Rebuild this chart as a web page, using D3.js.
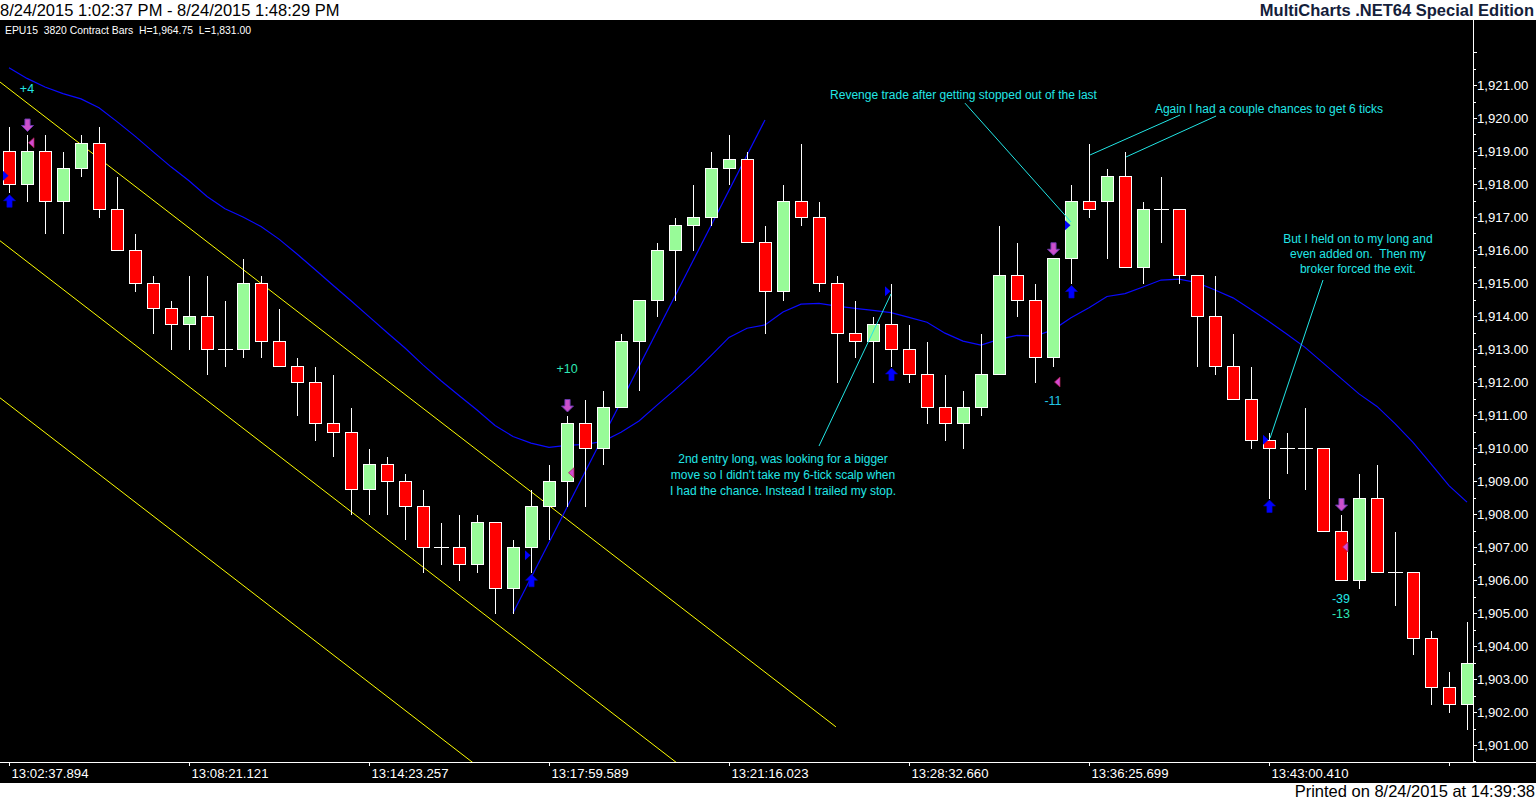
<!DOCTYPE html>
<html>
<head>
<meta charset="utf-8">
<script src="https://cdn.jsdelivr.net/npm/d3@7"></script>
<style>
  html, body { margin: 0; padding: 0; background: #fff; overflow: hidden; }
  svg { display: block; }
  text { font-family: "Liberation Sans", Arial, sans-serif; white-space: pre; }
</style>
</head>
<body>
<div id="chart"></div>
<script>
// EPU15 3820 contract bars
var opens  = [1919.0,1918.0,1919.0,1917.5,1918.5,1919.25,1917.25,1916.0,1915.0,1914.25,
              1913.75,1914.0,1913.0,1913.0,1915.0,1913.25,1912.5,1912.0,1910.75,1910.5,
              1908.75,1909.5,1909.0,1908.25,1907.0,1907.0,1906.5,1907.75,1905.75,1907.0,
              1908.25,1909.0,1910.75,1910.0,1911.25,1913.25,1914.5,1916.0,1916.75,1917.0,
              1918.5,1918.75,1916.25,1914.75,1917.5,1917.0,1915.0,1913.5,1913.25,1913.75,
              1913.0,1912.25,1911.25,1910.75,1911.25,1912.25,1915.25,1914.5,1912.75,1915.75,
              1917.5,1917.5,1918.25,1915.5,1917.25,1917.25,1915.25,1914.0,1912.5,1911.5,
              1910.25,1910.0,1910.0,1910.0,1907.5,1906.0,1908.5,1906.25,1906.25,1904.25,
              1902.75,1902.25];
var highs  = [1919.75,1919.5,1919.5,1919.0,1919.5,1919.75,1918.25,1916.5,1915.25,1914.5,
              1915.25,1915.25,1914.5,1915.75,1915.25,1914.25,1912.75,1912.5,1912.25,1911.25,
              1910.0,1909.75,1909.25,1908.75,1907.75,1908.0,1908.0,1907.75,1907.25,1908.75,
              1909.5,1911.0,1911.5,1911.75,1913.5,1914.5,1916.25,1917.0,1918.0,1919.0,
              1919.5,1919.0,1916.75,1918.0,1919.25,1917.5,1915.25,1914.5,1914.0,1915.0,
              1913.75,1913.25,1912.25,1911.75,1913.5,1916.75,1916.25,1915.0,1915.75,1918.0,
              1919.25,1918.5,1919.0,1917.5,1918.25,1917.25,1915.25,1915.25,1913.5,1912.5,
              1910.5,1910.5,1911.25,1910.0,1908.0,1909.25,1909.5,1907.5,1906.25,1904.5,
              1903.25,1904.75];
var lows   = [1917.75,1917.5,1916.5,1916.5,1918.25,1917.0,1916.0,1914.75,1913.5,1913.0,
              1913.0,1912.25,1912.5,1912.75,1912.75,1912.5,1911.0,1910.25,1909.75,1908.0,
              1908.0,1908.0,1907.25,1906.25,1906.5,1906.0,1906.25,1905.0,1905.0,1906.25,
              1907.25,1908.25,1908.25,1909.5,1911.25,1911.75,1914.0,1914.5,1916.0,1916.75,
              1918.0,1916.25,1913.5,1914.5,1916.75,1914.75,1912.0,1912.75,1912.0,1912.5,
              1912.0,1910.75,1910.25,1910.0,1911.0,1912.25,1914.0,1912.0,1912.5,1915.0,
              1917.0,1915.75,1915.5,1915.0,1916.25,1915.0,1912.5,1912.25,1911.5,1910.0,
              1908.5,1909.25,1908.75,1907.5,1906.0,1905.75,1906.25,1905.25,1903.75,1902.25,
              1902.0,1901.5];
var closes = [1918.0,1919.0,1917.5,1918.5,1919.25,1917.25,1916.0,1915.0,1914.25,1913.75,
              1914.0,1913.0,1913.0,1915.0,1913.25,1912.5,1912.0,1910.75,1910.5,1908.75,
              1909.5,1909.0,1908.25,1907.0,1907.0,1906.5,1907.75,1905.75,1907.0,1908.25,
              1909.0,1910.75,1910.0,1911.25,1913.25,1914.5,1916.0,1916.75,1917.0,1918.5,
              1918.75,1916.25,1914.75,1917.5,1917.0,1915.0,1913.5,1913.25,1913.75,1913.0,
              1912.25,1911.25,1910.75,1911.25,1912.25,1915.25,1914.5,1912.75,1915.75,1917.5,
              1917.25,1918.25,1915.5,1917.25,1917.25,1915.25,1914.0,1912.5,1911.5,1910.25,
              1910.0,1910.0,1910.0,1907.5,1906.0,1908.5,1906.25,1906.25,1904.25,1902.75,
              1902.25,1903.5];

// moving average (blue line), one value per bar
var maValues = [1921.52,1921.20,1920.94,1920.74,1920.58,1920.31,1919.89,1919.45,1918.98,1918.52,
                1918.10,1917.62,1917.25,1917.00,1916.71,1916.33,1915.88,1915.41,1914.93,1914.46,
                1913.98,1913.50,1913.03,1912.52,1912.04,1911.59,1911.15,1910.68,1910.35,1910.15,
                1910.02,1910.08,1910.11,1910.20,1910.48,1910.82,1911.30,1911.77,1912.26,1912.80,
                1913.35,1913.63,1913.73,1914.12,1914.36,1914.38,1914.30,1914.23,1914.17,1914.10,
                1913.96,1913.81,1913.48,1913.24,1913.12,1913.29,1913.41,1913.39,1913.58,1913.95,
                1914.25,1914.59,1914.68,1914.88,1915.09,1915.12,1915.01,1914.79,1914.55,1914.20,
                1913.83,1913.45,1913.05,1912.58,1912.11,1911.64,1911.26,1910.74,1910.17,1909.52,
                1908.86,1908.36];

var timeTickBars = [0,10,20,30,40,50,60,70,80];
var timeLabels = ["13:02:37.894","13:08:21.121","13:14:23.257","13:17:59.589","13:21:16.023",
                  "13:28:32.660","13:36:25.699","13:43:00.410",""];
var priceTicks = [1901,1902,1903,1904,1905,1906,1907,1908,1909,1910,1911,
                  1912,1913,1914,1915,1916,1917,1918,1919,1920,1921,1922];

// trades
var buyBars = [0,29,49,59,70];
var buyPrices = [1918.25,1906.75,1914.75,1916.75,1910.25];
var sellBars = [1,31,58,74];
var sellPrices = [1919.25,1909.25,1912.0,1907.0];
var pnlText = ["+4","+10","-11","-39","-13"];
var pnlBars = [1,31,58,74,74];
var pnlPrices = [1920.76,1912.27,1911.30,1905.30,1904.85];
var pnlColors = ["#22e6e6","#2ee6b4","#22c8e6","#22e6e6","#2ee6b4"];

// drawing tools: [bar, price] pairs
var channelLines = [
  [[-0.5,1921.09],[45.94,1901.55]],
  [[-0.5,1916.28],[45.94,1896.74]],
  [[-0.5,1911.52],[45.94,1891.98]]
];
var trendLine = [[28,1905.0],[42,1919.94]];

var noteTexts = [
  ["Revenge trade after getting stopped out of the last"],
  ["Again I had a couple chances to get 6 ticks"],
  ["2nd entry long, was looking for a bigger","move so I didn't take my 6-tick scalp when","I had the chance. Instead I trailed my stop."],
  ["But I held on to my long and","even added on.  Then my","broker forced the exit."]
];
var noteAnchors = [[53.03,1920.58],[70.0,1920.15],[43.0,1909.55],[74.94,1916.21]];
var noteLeaders = [
  [[53.11,1920.45],[59.0,1916.85]],
  [[60.06,1918.88],[65.06,1920.09]],
  [[62.06,1918.82],[67.06,1920.06]],
  [[45.0,1910.06],[49.0,1914.67]],
  [[73.0,1915.09],[70.06,1910.30]]
];

var width = 1536, height = 801;
var plotRight = 1473, plotTop = 20, plotBottom = 762, footerTop = 783;

var x = d3.scaleLinear().domain([0, 81]).range([9, 1467]);
var y = d3.scaleLinear().domain([1901, 1921]).range([745, 85]);
var px = function(v) { return Math.round(v) + 0.5; };

var svg = d3.select("#chart").append("svg")
  .attr("width", width)
  .attr("height", height);

// backgrounds
svg.append("rect").attr("width", width).attr("height", height).attr("fill", "#fff");
svg.append("rect").attr("x", 0).attr("y", plotTop).attr("width", width)
  .attr("height", footerTop - plotTop).attr("fill", "#000");

svg.append("defs").append("clipPath").attr("id", "plot")
  .append("rect").attr("x", 0).attr("y", plotTop)
  .attr("width", plotRight).attr("height", plotBottom - plotTop);

// header / footer
svg.append("text").attr("x", 0).attr("y", 16).attr("font-size", 16.5).attr("fill", "#000")
  .text("8/24/2015 1:02:37 PM - 8/24/2015 1:48:29 PM");
svg.append("text").attr("x", 1534).attr("y", 16).attr("text-anchor", "end")
  .attr("font-size", 16.5).attr("font-weight", "bold").attr("fill", "#14203a")
  .text("MultiCharts .NET64 Special Edition");
svg.append("text").attr("x", 1535).attr("y", 797).attr("text-anchor", "end")
  .attr("font-size", 16.5).attr("fill", "#000")
  .text("Printed on 8/24/2015 at 14:39:38");
svg.append("text").attr("x", 5).attr("y", 34).attr("font-size", 10.4).attr("fill", "#fff")
  .text("EPU15  3820 Contract Bars  H=1,964.75  L=1,831.00");

// axes
var axisG = svg.append("g").attr("shape-rendering", "crispEdges");
axisG.append("line").attr("x1", plotRight + 0.5).attr("x2", plotRight + 0.5)
  .attr("y1", plotTop).attr("y2", plotBottom).attr("stroke", "#fff");
axisG.append("line").attr("x1", 0).attr("x2", width)
  .attr("y1", plotBottom + 0.5).attr("y2", plotBottom + 0.5).attr("stroke", "#fff");

var minorTicks = d3.range(1900.5, 1922.5, 1);
axisG.selectAll(".minor").data(minorTicks).enter().append("line")
  .attr("x1", plotRight).attr("x2", plotRight + 3)
  .attr("y1", d => px(y(d))).attr("y2", d => px(y(d)))
  .attr("stroke", "#fff");
axisG.selectAll(".major").data(priceTicks).enter().append("line")
  .attr("x1", plotRight).attr("x2", plotRight + 4)
  .attr("y1", d => px(y(d))).attr("y2", d => px(y(d)))
  .attr("stroke", "#fff");
svg.selectAll(".plabel").data(priceTicks.filter(d => d <= 1921)).enter().append("text")
  .attr("x", plotRight + 4).attr("y", d => y(d) + 5)
  .attr("font-size", 13.2).attr("fill", "#fff")
  .text(d => d3.format(",.2f")(d));

axisG.selectAll(".tt").data(timeTickBars).enter().append("line")
  .attr("x1", d => px(x(d))).attr("x2", d => px(x(d)))
  .attr("y1", plotBottom).attr("y2", plotBottom + 4)
  .attr("stroke", "#fff");
svg.selectAll(".tlabel").data(timeTickBars).enter().append("text")
  .attr("x", d => x(d) + 2.5).attr("y", 778)
  .attr("font-size", 13.2).attr("fill", "#fff")
  .text((d, i) => timeLabels[i]);

var plot = svg.append("g").attr("clip-path", "url(#plot)");

// regression channel
var line = d3.line().x(d => x(d[0])).y(d => y(d[1]));
plot.selectAll(".chan").data(channelLines).enter().append("path")
  .attr("d", line).attr("fill", "none").attr("stroke", "#ffff00").attr("stroke-width", 1);

// moving average + trend line
plot.append("path").datum(maValues)
  .attr("d", d3.line().x((d, i) => x(i)).y(d => y(d)))
  .attr("fill", "none").attr("stroke", "#0a0aff").attr("stroke-width", 1.2);
plot.append("path").datum(trendLine)
  .attr("d", line).attr("fill", "none").attr("stroke", "#0a0aff").attr("stroke-width", 1.2);

// candles
var bars = d3.range(opens.length);
var candles = plot.append("g").attr("shape-rendering", "crispEdges");
candles.selectAll(".wick").data(bars).enter().append("line")
  .attr("x1", i => px(x(i))).attr("x2", i => px(x(i)))
  .attr("y1", i => px(y(highs[i]))).attr("y2", i => px(y(lows[i])))
  .attr("stroke", "#fff");
candles.selectAll(".body").data(bars.filter(i => opens[i] !== closes[i])).enter().append("rect")
  .attr("x", i => Math.round(x(i)) - 5.5)
  .attr("width", 12)
  .attr("y", i => px(y(Math.max(opens[i], closes[i]))))
  .attr("height", i => px(y(Math.min(opens[i], closes[i]))) - px(y(Math.max(opens[i], closes[i]))))
  .attr("fill", i => closes[i] > opens[i] ? "#98fb98" : "#ff0000")
  .attr("stroke", "#fff");
candles.selectAll(".doji").data(bars.filter(i => opens[i] === closes[i])).enter().append("line")
  .attr("x1", i => Math.round(x(i)) - 7).attr("x2", i => Math.round(x(i)) + 8)
  .attr("y1", i => px(y(opens[i]))).attr("y2", i => px(y(opens[i])))
  .attr("stroke", "#fff");

// trade markers
var markers = plot.append("g");
markers.selectAll(".buyArrow").data(buyBars).enter().append("path")
  .attr("transform", i => "translate(" + (Math.round(x(i)) + 0.5) + "," + (y(lows[i]) + 2.5) + ")")
  .attr("d", "M0,0 L6,6 L2.6,6 L2.6,12.5 L-2.6,12.5 L-2.6,6 L-6,6 Z")
  .attr("fill", "#0000ff").attr("stroke", "#0000cc").attr("stroke-width", 0.6);
markers.selectAll(".buyTri").data(buyBars).enter().append("path")
  .attr("transform", (i, k) => "translate(" + (Math.round(x(i)) - 6) + "," + y(buyPrices[k]) + ")")
  .attr("d", "M0,-5 L5.5,0 L0,5 Z")
  .attr("fill", "#0000ff");
markers.selectAll(".sellArrow").data(sellBars).enter().append("path")
  .attr("transform", i => "translate(" + (Math.round(x(i)) + 0.5) + "," + (y(highs[i]) - 3) + ")")
  .attr("d", "M0,0 L6,-6 L2.6,-6 L2.6,-12.5 L-2.6,-12.5 L-2.6,-6 L-6,-6 Z")
  .attr("fill", "#cc4fcc").attr("stroke", "#6a3ab0").attr("stroke-width", 0.9);
markers.selectAll(".sellTri").data(sellBars).enter().append("path")
  .attr("transform", (i, k) => "translate(" + (Math.round(x(i)) + 7) + "," + y(sellPrices[k]) + ")")
  .attr("d", "M0,-5 L-5.5,0 L0,5 Z")
  .attr("fill", "#d24ad2").attr("stroke", "#b02050").attr("stroke-width", 0.7);

// P&L labels
plot.selectAll(".pnl").data(pnlText).enter().append("text")
  .attr("x", (d, k) => x(pnlBars[k]))
  .attr("y", (d, k) => y(pnlPrices[k]))
  .attr("text-anchor", "middle")
  .attr("font-size", 12.5).attr("fill", (d, k) => pnlColors[k])
  .text(d => d);

// text notes and leader lines
plot.selectAll(".leader").data(noteLeaders).enter().append("path")
  .attr("d", line).attr("fill", "none").attr("stroke", "#22e6e6").attr("stroke-width", 1);

var lineGaps = [16, 16, 16, 15];
noteTexts.forEach(function(lines, n) {
  var t = plot.append("text")
    .attr("x", x(noteAnchors[n][0]))
    .attr("y", y(noteAnchors[n][1]))
    .attr("text-anchor", "middle")
    .attr("font-size", 12).attr("fill", "#22e6e6");
  lines.forEach(function(s, k) {
    t.append("tspan").attr("x", x(noteAnchors[n][0]))
      .attr("dy", k === 0 ? 0 : lineGaps[n]).text(s);
  });
});
</script>
</body>
</html>
